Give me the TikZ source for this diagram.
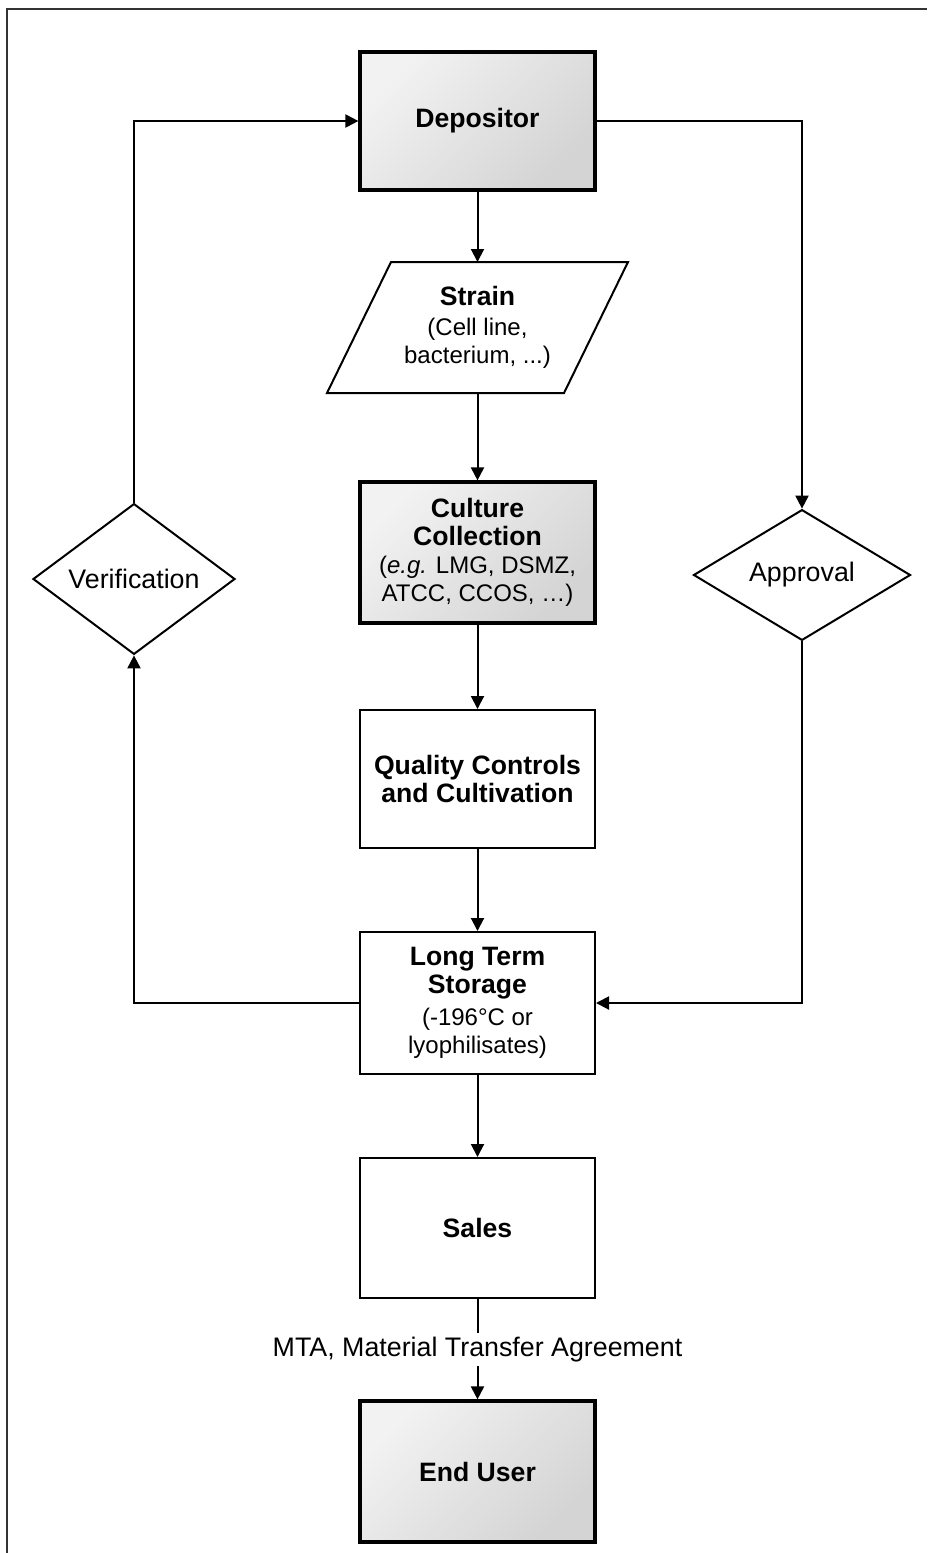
\documentclass[tikz,border=0pt]{standalone}
\usepackage{fontspec}
\setmainfont{Liberation Sans}
\usetikzlibrary{positioning,arrows.meta,calc,shapes.geometric,shadows}

\newcommand{\boxtitle}{\fontsize{13.3}{14}\selectfont\bfseries}
\newcommand{\boxnote}{\fontsize{12}{14}\selectfont\mdseries}

\begin{document}
\begin{tikzpicture}[x=0.5pt,y=-0.5pt,
    box/.style={draw,line width=1pt,rectangle,fill=white,minimum width=117.5pt,
      inner sep=2pt,align=center,font=\boxtitle},
    keybox/.style={box,line width=1.6pt,top color=black!5,bottom color=black!17,
      shading angle=45,drop shadow={shadow xshift=0.8pt,shadow yshift=-0.8pt,fill=black!45}},
    check/.style={draw,diamond,line width=1pt,inner sep=0pt,minimum height=60pt,
      fill=white,font=\fontsize{13.4}{16}\selectfont},
    flow/.style={-{Triangle[length=6.5pt,width=6.5pt]},line width=1pt},
    mta/.style={fill=white,inner sep=2pt,font=\fontsize{13.4}{16}\selectfont}]
  \useasboundingbox (0,0) rectangle (927,1553);
  % frame
  \draw[line width=1pt,black!80] (7,1553) -- (7,8.5) -- (927,8.5);

  % main column
  \node[keybox,minimum height=69pt] (dep) at (477.5,121) {Depositor};
  \node[box,draw=none,fill=none,minimum height=64.5pt] (strain) at (477.5,327.5)
    {Strain\\[1pt]\boxnote (Cell line,\\\boxnote bacterium, ...)};
  \draw[line width=1pt] ($(strain.north west)+(16pt,0)$) -- ($(strain.north east)+(16pt,0)$)
    -- ($(strain.south east)+(-16pt,0)$) -- ($(strain.south west)+(-16pt,0)$) -- cycle;
  \node[keybox,minimum height=70.5pt] (cult) at (477.5,552.5)
    {Culture\\Collection\\\boxnote (\textit{e.g.} LMG, DSMZ,\\\boxnote ATCC, CCOS, …)};
  \node[box,minimum height=69pt] (qc) at (477.5,779) {Quality Controls\\and Cultivation};
  \node[box,minimum height=71pt] (lts) at (477.5,1003)
    {Long Term\\Storage\\[2pt]\boxnote (-196°C or\\\boxnote lyophilisates)};
  \node[box,minimum height=70pt] (sales) at (477.5,1228) {Sales};
  \node[keybox,minimum height=70.5pt] (eu) at (477.5,1471.5) {End User};

  % decisions
  \node[check,minimum width=101pt] (verif) at (134,579) {Verification};
  \node[check,minimum width=108.5pt] (appr) at (802,575) {Approval};

  \draw[flow] (dep) -- (strain);
  \draw[flow] (strain) -- (cult);
  \draw[flow] (cult) -- (qc);
  \draw[flow] (qc) -- (lts);
  \draw[flow] (lts) -- (sales);
  \draw[flow] (sales) -- node[mta] {MTA, Material Transfer Agreement} (eu);

  % loops
  \draw[flow] (lts.west) -| (verif.south);
  \draw[flow] (verif.north) |- (dep.west);
  \draw[flow] (dep.east) -| (appr.north);
  \draw[flow] (appr.south) |- (lts.east);
\end{tikzpicture}
\end{document}
